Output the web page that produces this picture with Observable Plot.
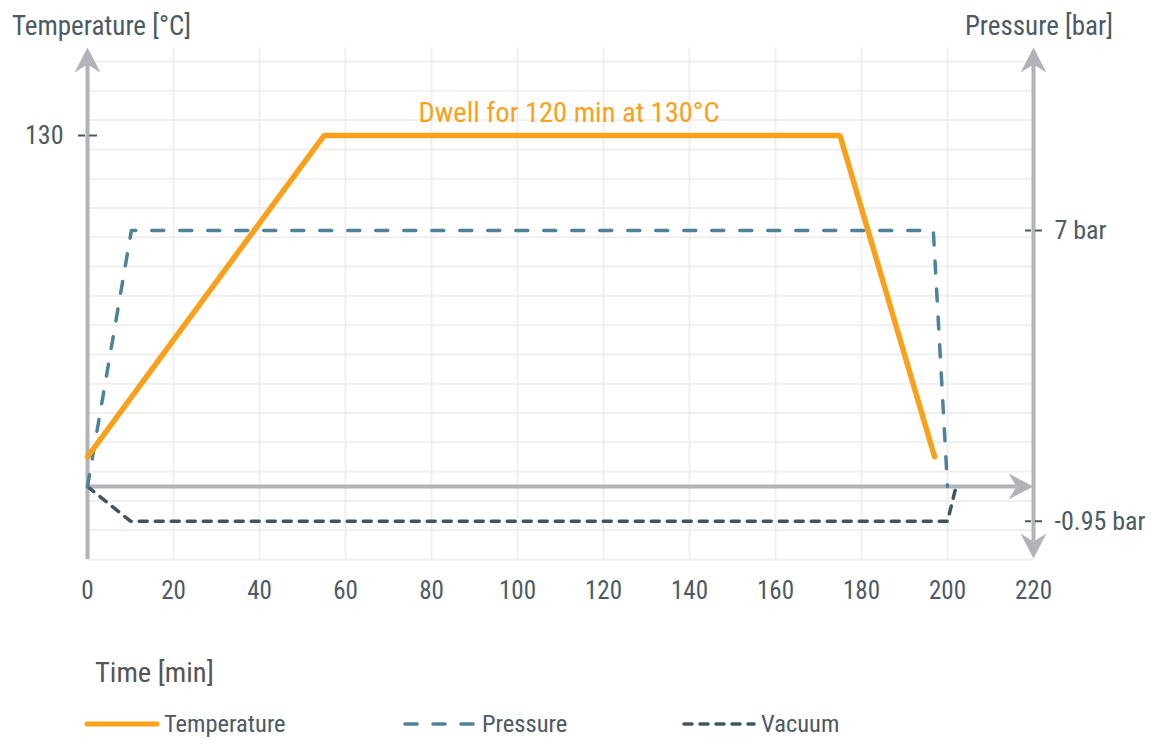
<!DOCTYPE html>
<html><head><meta charset="utf-8">
<script src="https://cdn.jsdelivr.net/npm/d3@7"></script>
<script src="https://cdn.jsdelivr.net/npm/@observablehq/plot@0.6"></script>
<style>
body{margin:0;background:#fff;font-family:"Roboto Condensed","Liberation Sans Narrow","Arial Narrow","DejaVu Sans Condensed",Roboto,sans-serif;}
#page{width:1163px;height:740px;position:relative;overflow:hidden;}
#header{position:relative;height:40px;}
#footer{position:relative;height:120px;}
.t{position:absolute;white-space:nowrap;line-height:1;}
</style></head><body>
<div id="page">
  <div id="header">
    <div class="t" style="left:12px;top:13px;font-size:27px;color:#4b5a64">Temperature [°C]</div>
    <div class="t" style="right:50px;top:13px;font-size:27px;color:#4b5a64">Pressure [bar]</div>
  </div>
  <div id="chart"></div>
  <div id="footer"></div>
</div>
<script>
// ---- data ----
const timeTemp = [0, 55, 175, 197];
const temperature = [11, 130, 130, 11];
const timePressure = [0, 10.2, 196.7, 200];
const pressure = [0, 7, 7, 0];
const timeVacuum = [0, 10, 200, 202];
const vacuum = [0, -0.95, -0.95, 0];
const xTicks = [0, 20, 40, 60, 80, 100, 120, 140, 160, 180, 200, 220];
const xGrid = [20, 40, 60, 80, 100, 120, 140, 160, 180, 200];
const tempTicks = [130];
const pressureTicks = [7, -0.95];
const pressureTickLabels = ["7 bar", "-0.95 bar"];
const annotationText = "Dwell for 120 min at 130°C";
const annotationTime = 112;
const seriesNames = ["Temperature", "Pressure", "Vacuum"];

// ---- styling ----
const ORANGE = "#f9a11b", PBLUE = "#4f819b", VAC = "#3f5560";
const AXIS = "#b2b3b9", GRID = "#efefef", TEXT = "#4b5a64";
const FONT = '"Roboto Condensed","Liberation Sans Narrow","Arial Narrow","DejaVu Sans Condensed",Roboto,sans-serif';

// shared y scale in °C; pressure mapped onto it (right axis)
const C_PER_BAR = 13.54;
const Y_MIN = -27.04, Y_MAX = 162.6;
const PX_PER_C = 2.7, PX_PER_MIN = 4.3;
const yGrid = d3.range(0, 18).map(i => Y_MIN + i * 10.85);

const tempData = timeTemp.map((t, i) => ({t, v: temperature[i]}));
const presData = timePressure.map((t, i) => ({t, v: pressure[i] * C_PER_BAR}));
const vacData = timeVacuum.map((t, i) => ({t, v: vacuum[i] * C_PER_BAR}));

const stealth = {
  draw(ctx) {
    ctx.moveTo(0, 0); ctx.lineTo(13, 25); ctx.lineTo(0, 17); ctx.lineTo(-13, 25); ctx.closePath();
  }
};
const notchC = 17 / PX_PER_C;

const chart = Plot.plot({
  width: 1163, height: 580,
  marginTop: 7, marginBottom: 61, marginLeft: 87, marginRight: 130,
  style: {fontFamily: FONT, background: "#fff", overflow: "visible"},
  x: {domain: [0, 220], axis: null},
  y: {domain: [Y_MIN, Y_MAX], axis: null},
  marks: [
    Plot.ruleY(yGrid, {x1: 0, x2: 220, stroke: GRID, strokeWidth: 2}),
    Plot.ruleX(xGrid, {y1: Y_MIN, y2: Y_MAX, stroke: GRID, strokeWidth: 2}),
    // axes
    Plot.ruleX([0], {y1: Y_MIN, y2: Y_MAX - notchC, stroke: AXIS, strokeWidth: 4}),
    Plot.ruleX([220], {y1: Y_MIN + 1 / PX_PER_C + notchC, y2: Y_MAX - notchC, stroke: AXIS, strokeWidth: 4}),
    Plot.ruleY([0], {x1: 0, x2: 220 - 17 / PX_PER_MIN, stroke: AXIS, strokeWidth: 4}),
    Plot.dot([{x: 0, y: Y_MAX}, {x: 220, y: Y_MAX}], {x: "x", y: "y", symbol: stealth, fill: AXIS, stroke: null, rotate: 0}),
    Plot.dot([{x: 220, y: 0}], {x: "x", y: "y", symbol: stealth, fill: AXIS, stroke: null, rotate: 90}),
    Plot.dot([{x: 220, y: Y_MIN + 1 / PX_PER_C}], {x: "x", y: "y", symbol: stealth, fill: AXIS, stroke: null, rotate: 180}),
    // tick dashes
    Plot.ruleY(tempTicks, {x1: -9 / PX_PER_MIN, x2: 10 / PX_PER_MIN, stroke: TEXT, strokeWidth: 2, strokeDasharray: "7,4,8"}),
    Plot.ruleY(pressureTicks.map(p => p * C_PER_BAR), {x1: 220 - 8 / PX_PER_MIN, x2: 220 + 9 / PX_PER_MIN, stroke: TEXT, strokeWidth: 2, strokeDasharray: "6,4,7"}),
    // tick labels
    Plot.text(tempTicks, {x: 0, y: d => d, text: d => String(d), dx: -24, textAnchor: "end", fontSize: 26, fill: TEXT}),
    Plot.text(pressureTicks, {x: 220, y: d => d * C_PER_BAR, text: (d, i) => pressureTickLabels[i], dx: 21, textAnchor: "start", fontSize: 26, fill: TEXT}),
    Plot.text(xTicks, {x: d => d, y: Y_MIN, dy: 31, text: d => String(d), fontSize: 25, fill: TEXT}),
    // series
    Plot.line(vacData, {x: "t", y: "v", stroke: VAC, strokeWidth: 3.5, strokeDasharray: "8,8", strokeLinecap: "round"}),
    Plot.line(presData, {x: "t", y: "v", stroke: PBLUE, strokeWidth: 3.5, strokeDasharray: "12,16", strokeLinecap: "round"}),
    Plot.line(tempData, {x: "t", y: "v", stroke: ORANGE, strokeWidth: 5.5, strokeLinecap: "round", strokeLinejoin: "miter"}),
    Plot.text([annotationText], {x: annotationTime, y: 130, dy: -23, text: d => d, fill: ORANGE, fontSize: 28.5})
  ]
});
document.getElementById("chart").appendChild(chart);

// footer: axis title + legend
const footer = d3.select("#footer");
footer.append("div").attr("class", "t")
  .style("left", "95px").style("top", "39px").style("font-size", "28.5px").style("color", "#555")
  .text("Time [min]");
const legendItems = [
  {name: seriesNames[0], color: ORANGE, width: 5, dash: null, x: 87},
  {name: seriesNames[1], color: PBLUE, width: 3.5, dash: "12,16", x: 405},
  {name: seriesNames[2], color: VAC, width: 3.5, dash: "8,8", x: 684}
];
for (const it of legendItems) {
  const s = footer.append("svg").attr("width", 80).attr("height", 12)
    .style("position", "absolute").style("left", (it.x - 3) + "px").style("top", "98px");
  s.append("line").attr("x1", 3).attr("x2", 73).attr("y1", 6).attr("y2", 6)
    .attr("stroke", it.color).attr("stroke-width", it.width).attr("stroke-linecap", "round")
    .attr("stroke-dasharray", it.dash);
  footer.append("div").attr("class", "t")
    .style("left", (it.x + 77) + "px").style("top", "92px").style("font-size", "24.5px").style("color", TEXT)
    .text(it.name);
}
</script>
</body></html>
